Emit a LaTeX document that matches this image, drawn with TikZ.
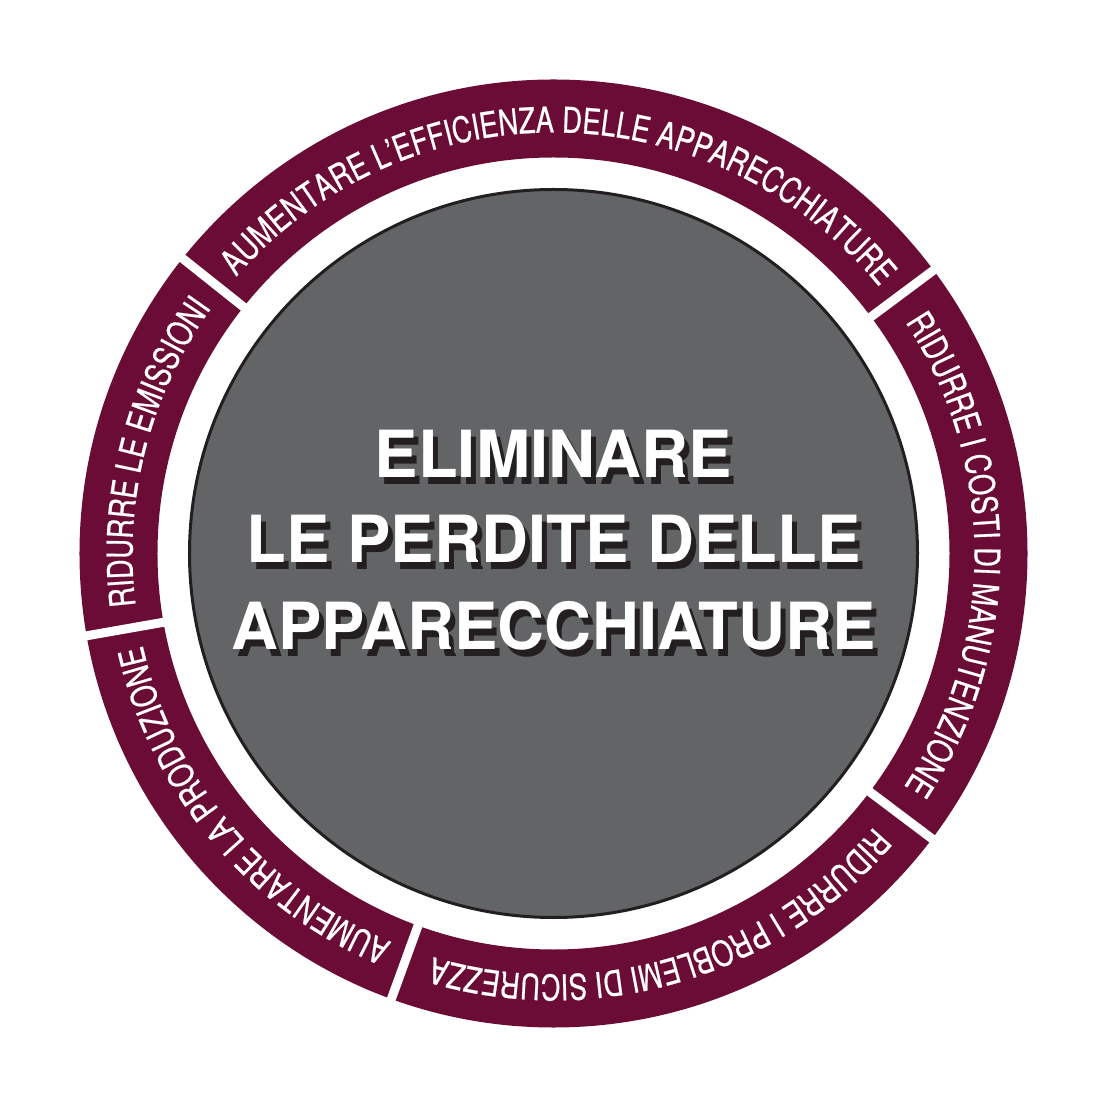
\documentclass[tikz,border=0pt]{standalone}
\usepackage{fontspec}
\usetikzlibrary{decorations.text}
\newfontfamily\ringfont[FakeStretch=0.77,FakeBold=0.6]{TeX Gyre Heros}
\newfontfamily\titlefont{TeX Gyre Heros}
\definecolor{ringred}{HTML}{6A0C36}
\definecolor{coregray}{HTML}{636466}
\definecolor{darkline}{HTML}{231F20}
\tikzset{
  ringtext/.style={decorate, decoration={text along path,
      text={|\ringfont\fontsize{35.5}{40}\selectfont|#1},
      text align=center, text color=white}},
  gapline/.style={white, line width=9pt},
  titleline/.style={font=\titlefont\bfseries\fontsize{65}{70}\selectfont,
      text=white, anchor=base, inner sep=0pt},
  titleshadow/.style={titleline, text=darkline}
}
\begin{document}
\begin{tikzpicture}[x=1pt,y=1pt]
\path[use as bounding box] (-553.5,-553.5) rectangle (553.5,553.5);
% ring
\fill[ringred, even odd rule] (0,0) circle[radius=474] (0,0) circle[radius=396];
% gaps
\foreach \a in {141.5,36.7,-37,-110,190}
  \draw[gapline] (\a:385) -- (\a:490);
% core
\filldraw[fill=coregray, draw=darkline, line width=3pt] (0,0) circle[radius=364];
% ring texts
\path[ringtext={AUMENTARE L’EFFICIENZA DELLE APPARECCHIATURE}]
  (141.5:421) arc[start angle=141.5, end angle=36.7, radius=421];
\path[ringtext={RIDURRE I COSTI DI MANUTENZIONE}]
  (36.7:421) arc[start angle=36.7, end angle=-37, radius=421];
\path[ringtext={RIDURRE I PROBLEMI DI SICUREZZA}]
  (-37:421) arc[start angle=-37, end angle=-110, radius=421];
\path[ringtext={AUMENTARE LA PRODUZIONE}]
  (250:421) arc[start angle=250, end angle=190, radius=421];
\path[ringtext={RIDURRE LE EMISSIONI}]
  (190:421) arc[start angle=190, end angle=141.5, radius=421];
% title
\node[titleshadow] (s1) at (5,69) {ELIMINARE};
\node[titleshadow] (s2) at (5,-16) {LE PERDITE DELLE};
\node[titleshadow] (s3) at (5,-103) {APPARECCHIATURE};
\node[titleline] (t1) at (0,76) {ELIMINARE};
\node[titleline] (t2) at (0,-9) {LE PERDITE DELLE};
\node[titleline] (t3) at (0,-96) {APPARECCHIATURE};
\end{tikzpicture}
\end{document}
